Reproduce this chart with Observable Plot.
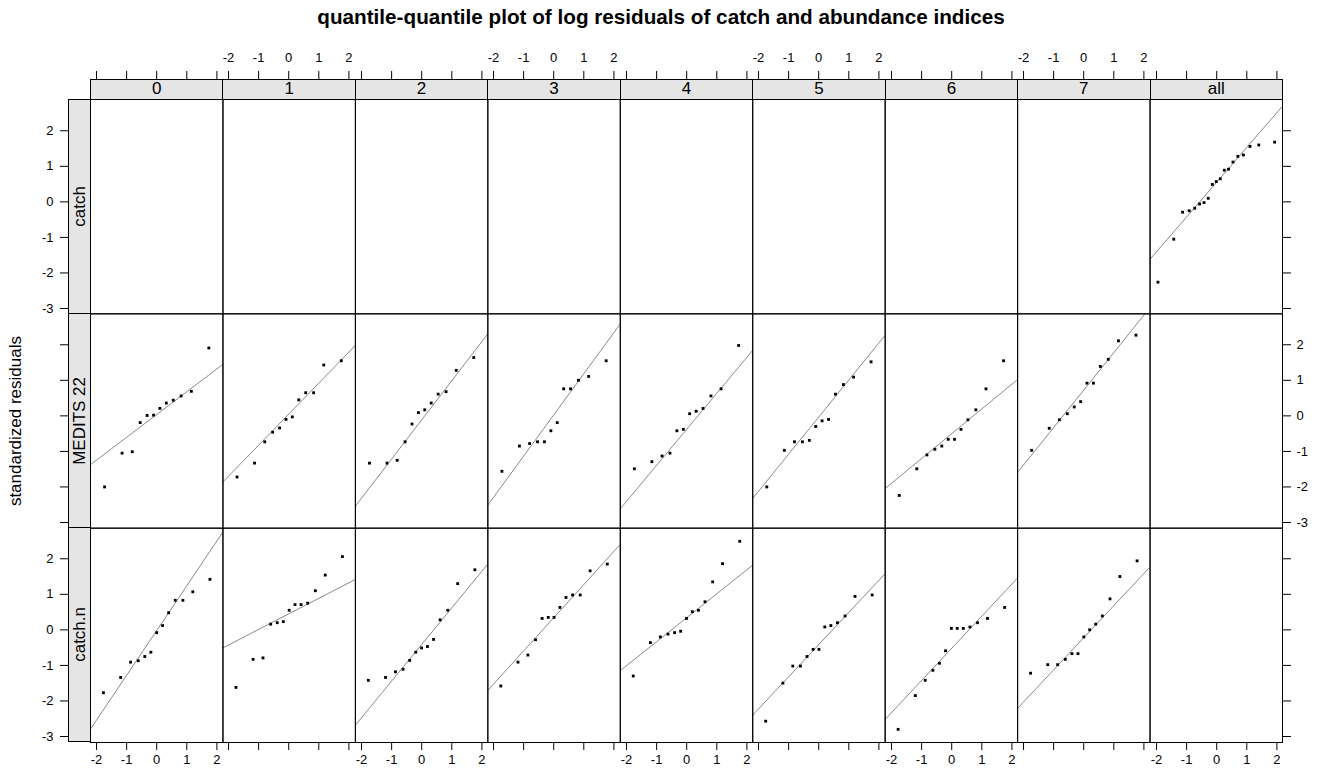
<!DOCTYPE html>
<html><head><meta charset="utf-8">
<script src="https://cdn.jsdelivr.net/npm/d3@7"></script>
<script src="https://cdn.jsdelivr.net/npm/@observablehq/plot@0.6"></script>
<style>
body{margin:0;background:#fff;}
#root{position:relative;width:1320px;height:780px;font-family:"Liberation Sans",Arial,sans-serif;overflow:hidden;background:#fff;}
#root svg{overflow:visible;}
.strip{position:absolute;background:#e5e5e5;border:1px solid #000;box-sizing:border-box;display:flex;align-items:center;justify-content:center;font-size:17px;color:#000;}
.vtext{writing-mode:vertical-rl;transform:rotate(180deg);white-space:nowrap;}
</style></head><body><div id="root"></div>
<script>
// ---- categories & tick labels ----
const columns = ["0","1","2","3","4","5","6","7","all"];
const rows = ["catch","MEDITS 22","catch.n"];
const xTicks = [-2,-1,0,1,2];
const yTicks = [-3,-2,-1,0,1,2];
const titleText = "quantile-quantile plot of log residuals of catch and abundance indices";
const yLabel = "standardized residuals";

// theoretical normal quantiles (x positions)
const qx12 = [-1.732,-1.150,-0.812,-0.549,-0.319,-0.105,0.105,0.319,0.549,0.812,1.150,1.732];
const qx13 = [-1.769,-1.198,-0.869,-0.615,-0.396,-0.194,0,0.194,0.396,0.615,0.869,1.198,1.769];
const qx19 = [-1.938,-1.412,-1.119,-0.900,-0.716,-0.555,-0.407,-0.267,-0.132,0,0.132,0.267,0.407,0.555,0.716,0.900,1.119,1.412,1.938];

// ---- standardized residuals (sorted) ----
const catchAll = [-2.26,-1.05,-0.29,-0.25,-0.18,-0.06,-0.02,0.10,0.49,0.57,0.65,0.89,0.92,1.12,1.28,1.32,1.56,1.60,1.68];

const medits0 = [-1.99,-1.04,-1.00,-0.18,0.02,0.03,0.22,0.37,0.45,0.57,0.70,1.92];
const medits1 = [-1.71,-1.32,-0.72,-0.45,-0.33,-0.09,-0.02,0.46,0.66,0.66,1.44,1.56];
const medits2 = [-1.32,-1.32,-1.24,-0.72,-0.22,0.10,0.18,0.37,0.62,0.69,1.29,1.65];
const medits3 = [-1.55,-0.84,-0.77,-0.72,-0.72,-0.41,-0.18,0.77,0.77,1.01,1.12,1.56];
const medits4 = [-1.48,-1.28,-1.12,-1.04,-0.41,-0.37,0.07,0.14,0.22,0.57,0.77,1.99];
const medits5 = [-1.99,-0.96,-0.72,-0.72,-0.68,-0.29,-0.13,-0.09,0.62,0.89,1.10,1.53];
const medits6 = [-2.23,-1.48,-1.09,-0.93,-0.84,-0.65,-0.65,-0.37,-0.10,0.18,0.77,1.56];
const medits7 = [-0.96,-0.34,-0.10,0.07,0.26,0.41,0.93,0.93,1.40,1.60,2.12,2.28];

const catchn0 = [-1.75,-1.32,-0.89,-0.85,-0.73,-0.61,-0.06,0.14,0.50,0.85,0.85,1.09,1.44];
const catchn1 = [-1.60,-0.81,-0.77,0.18,0.22,0.25,0.57,0.73,0.73,0.77,1.12,1.56,2.08];
const catchn2 = [-1.40,-1.32,-1.16,-1.09,-0.84,-0.61,-0.49,-0.45,-0.25,0.30,0.57,1.32,1.71];
const catchn3 = [-1.56,-0.89,-0.69,-0.26,0.34,0.37,0.37,0.65,0.93,1.00,1.00,1.68,1.87];
const catchn4 = [-1.28,-0.34,-0.18,-0.10,-0.06,-0.02,0.34,0.53,0.57,0.81,1.37,1.88,2.51];
const catchn5 = [-2.55,-1.48,-1.00,-1.00,-0.73,-0.53,-0.53,0.10,0.14,0.22,0.41,0.96,1.00];
const catchn6 = [-2.78,-1.83,-1.40,-1.12,-0.92,-0.57,0.06,0.06,0.06,0.10,0.22,0.34,0.65];
const catchn7 = [-1.20,-0.96,-0.96,-0.81,-0.65,-0.65,-0.18,0.02,0.18,0.41,0.89,1.52,1.96];

// ---- assemble panels ----
const panels = [
  {row:"catch", col:"all", qx:qx19, v:catchAll},
  {row:"MEDITS 22", col:"0", qx:qx12, v:medits0},
  {row:"MEDITS 22", col:"1", qx:qx12, v:medits1},
  {row:"MEDITS 22", col:"2", qx:qx12, v:medits2},
  {row:"MEDITS 22", col:"3", qx:qx12, v:medits3},
  {row:"MEDITS 22", col:"4", qx:qx12, v:medits4},
  {row:"MEDITS 22", col:"5", qx:qx12, v:medits5},
  {row:"MEDITS 22", col:"6", qx:qx12, v:medits6},
  {row:"MEDITS 22", col:"7", qx:qx12, v:medits7},
  {row:"catch.n", col:"0", qx:qx13, v:catchn0},
  {row:"catch.n", col:"1", qx:qx13, v:catchn1},
  {row:"catch.n", col:"2", qx:qx13, v:catchn2},
  {row:"catch.n", col:"3", qx:qx13, v:catchn3},
  {row:"catch.n", col:"4", qx:qx13, v:catchn4},
  {row:"catch.n", col:"5", qx:qx13, v:catchn5},
  {row:"catch.n", col:"6", qx:qx13, v:catchn6},
  {row:"catch.n", col:"7", qx:qx13, v:catchn7}
];

const xDomain = [-2.2, 2.2], yDomain = [-3.15, 2.88];
const zq = 0.6744898; // qnorm(0.75)

const points = [];
const qqlines = [];
for (const p of panels) {
  p.v.forEach((y, i) => points.push({row:p.row, col:p.col, x:p.qx[i], y}));
  const s = [...p.v].sort((a,b)=>a-b);
  const q1 = d3.quantile(s, 0.25), q3 = d3.quantile(s, 0.75);
  const slope = (q3 - q1) / (2 * zq);
  const icpt = q1 + zq * slope;
  const key = p.row + "|" + p.col;
  for (const x of xDomain) qqlines.push({row:p.row, col:p.col, key, x, y: icpt + slope * x});
}
// every row x column cell, so empty panels still get a frame
const cells = d3.cross(rows, columns).map(([row, col]) => ({row, col}));

// ---- layout ----
const L = 90, R = 1282, T = 98.5, B = 741.5;
const W = (R - L) / 9, H = (B - T) / 3;
const root = document.getElementById("root");
const font = "Liberation Sans, Arial, sans-serif";
function place(el, left, top) {
  el.style.position = "absolute"; el.style.left = left + "px"; el.style.top = top + "px";
  root.appendChild(el); return el;
}

// title
const title = document.createElement("div");
title.textContent = titleText;
title.style.cssText = "width:1322px;text-align:center;font-weight:bold;font-size:20.7px;";
place(title, 0, 5);

// y label
const yl = document.createElement("div");
yl.textContent = yLabel;
yl.className = "vtext";
yl.style.fontSize = "17px";
place(yl, 6, 0);
{
  const h = yl.getBoundingClientRect().height;
  yl.style.top = (421 - h / 2) + "px";
}

// main panel grid
const main = Plot.plot({
  width: (R - L) + 2, height: (B - T) + 2, margin: 1,
  style: {background: "transparent", overflow: "visible"},
  fx: {domain: columns, padding: 0, axis: null, round: false},
  fy: {domain: rows, padding: 0, axis: null, round: false},
  x: {domain: xDomain, axis: null},
  y: {domain: yDomain, axis: null},
  marks: [
    Plot.text(cells, {fx: "col", fy: "row", text: () => ""}),
    Plot.line(qqlines, {x: "x", y: "y", fx: "col", fy: "row", z: "key", stroke: "#8a8a8a", strokeWidth: 1, clip: true}),
    Plot.dot(points, {x: "x", y: "y", fx: "col", fy: "row", symbol: "square", r: 1.6, fill: "#000", stroke: "none"}),
    Plot.frame({stroke: "#000", strokeWidth: 1})
  ]
});
place(main, L - 1, T - 1);

// top strips
columns.forEach((c, i) => {
  const d = document.createElement("div");
  d.className = "strip"; d.textContent = c;
  d.style.width = (W + 1) + "px"; d.style.height = "20.5px";
  place(d, L + i * W, 79);
});
// left strips
rows.forEach((r, j) => {
  const d = document.createElement("div");
  d.className = "strip";
  d.style.width = "23px"; d.style.height = (H + 1) + "px";
  const s = document.createElement("span"); s.className = "vtext"; s.textContent = r;
  d.appendChild(s);
  place(d, 68, T + j * H);
});

const axStyle = {background: "transparent", overflow: "visible", fontFamily: font, fontSize: "13px"};
const lab = d => String(d);
const nolab = () => "";
// top & bottom axes
columns.forEach((c, i) => {
  const top = Plot.plot({
    width: W, height: 40, marginTop: 40, marginBottom: 0, marginLeft: 0, marginRight: 0,
    style: axStyle, x: {domain: xDomain},
    marks: [Plot.axisX({anchor: "top", ticks: xTicks, tickSize: 9, tickPadding: 8, tickFormat: (i % 2 === 1) ? lab : nolab})]
  });
  place(top, L + i * W, 79 - 40);
  const bot = Plot.plot({
    width: W, height: 40, marginTop: 0, marginBottom: 40, marginLeft: 0, marginRight: 0,
    style: axStyle, x: {domain: xDomain},
    marks: [Plot.axisX({anchor: "bottom", ticks: xTicks, tickSize: 8, tickPadding: 4, tickFormat: (i % 2 === 0) ? lab : nolab})]
  });
  place(bot, L + i * W, B);
});
// left & right axes
rows.forEach((r, j) => {
  const left = Plot.plot({
    width: 40, height: H, marginLeft: 40, marginRight: 0, marginTop: 0, marginBottom: 0,
    style: axStyle, y: {domain: yDomain},
    marks: [Plot.axisY({anchor: "left", ticks: yTicks, tickSize: 8, tickPadding: 7, tickFormat: (j % 2 === 0) ? lab : nolab})]
  });
  place(left, 68 - 40, T + j * H);
  const right = Plot.plot({
    width: 40, height: H, marginLeft: 0, marginRight: 40, marginTop: 0, marginBottom: 0,
    style: axStyle, y: {domain: yDomain},
    marks: [Plot.axisY({anchor: "right", ticks: yTicks, tickSize: 8, tickPadding: 6, tickFormat: (j % 2 === 1) ? lab : nolab})]
  });
  place(right, R, T + j * H);
});
</script></body></html>
